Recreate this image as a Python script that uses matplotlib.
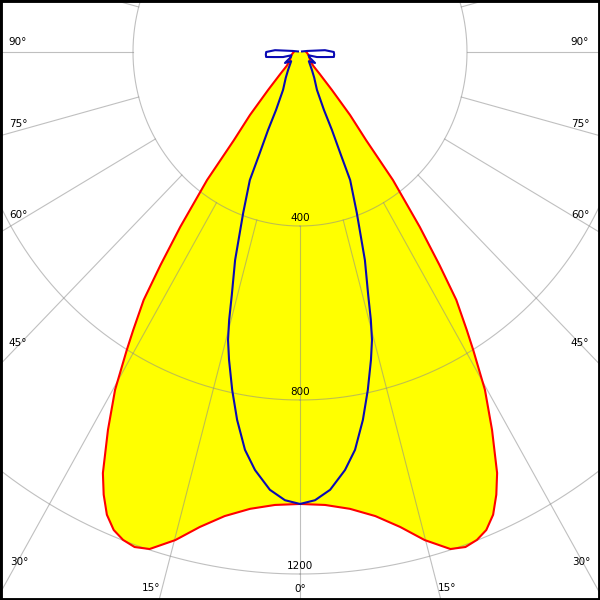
import numpy as np
import matplotlib

matplotlib.use("Agg")
import matplotlib.pyplot as plt
from matplotlib.patches import Rectangle

# half curves (deg from nadir -> cd), mirrored to the other side
red_deg = [0, 3.3, 6.5, 9.6, 12.4, 14.9, 17.5, 19.2, 20.7, 22.1, 23.5, 24.8, 26, 27.9, 29.7,
           31.2, 32, 33.3, 34.3, 35.5, 37.1, 38, 39.6, 41.2, 43, 45, 50, 60, 70, 80, 90]
red_cd = [1039, 1043, 1057, 1082, 1118, 1161, 1198, 1205, 1199, 1186, 1160, 1121, 1077, 983, 894,
          801, 754, 682, 593, 494, 369, 257, 188, 116, 70, 45, 32, 26, 22, 18, 15]
blue_deg = [0, 2, 4.1, 6.4, 8.2, 10.1, 11.8, 13.5, 14.6, 15.4, 16.3, 18, 20.2, 22.2, 22.5, 23.1,
            23.3, 25, 30, 34.7, 45, 55, 62, 70, 74, 79, 82, 86, 90, 94, 98, 105]
blue_cd = [1039, 1031, 1009, 967, 924, 859, 794, 728, 684, 639, 582, 503, 394, 318, 256, 195,
           145, 96, 68, 50, 30, 44, 25, 22, 42, 61, 82, 82, 81, 60, 17, 5]

ring_cd = [400, 800, 1200]
ring_labels = ["400", "800", "1200"]
spoke_deg = list(range(0, 360, 15))

# (text, x px, y px) of the angle labels along the frame
angle_labels = [
    ("90°", 18, 42), ("75°", 18, 124), ("60°", 18, 215), ("45°", 18, 343), ("30°", 19, 562),
    ("15°", 151, 588), ("0°", 300, 589), ("15°", 447, 588),
    ("30°", 581, 562), ("45°", 580, 343), ("60°", 580, 215), ("75°", 580, 124), ("90°", 580, 42),
]


def mirrored(deg, cd):
    d = np.asarray(deg, dtype=float)
    c = np.asarray(cd, dtype=float)
    d_full = np.concatenate([-d[::-1], d[1:]])
    c_full = np.concatenate([c[::-1], c[1:]])
    t = np.radians(d_full)
    return c_full * np.sin(t), -c_full * np.cos(t)


fig = plt.figure(figsize=(6, 6), dpi=100)
ax = fig.add_axes([0, 0, 1, 1])
# centre of the diagram at (300, 52) px; 0.4175 px/cd across, 0.435 px/cd down
ax.set_xlim(-300 / 0.4175, 300 / 0.4175)
ax.set_ylim(-548 / 0.435, 52 / 0.435)
ax.axis("off")

rx, ry = mirrored(red_deg, red_cd)
bx, by = mirrored(blue_deg, blue_cd)

ax.fill(rx, ry, color="#ffff00", zorder=1, lw=0)

grid_kw = dict(color="#8c8c8c", alpha=0.55, lw=0.8, zorder=2)
t = np.linspace(0, 2 * np.pi, 721)
for r in ring_cd:
    ax.plot(r * np.sin(t), -r * np.cos(t), **grid_kw)
for a in spoke_deg:
    s, c = np.sin(np.radians(a)), np.cos(np.radians(a))
    ax.plot([400 * s, 2500 * s], [-400 * c, -2500 * c], **grid_kw)

ax.plot(rx, ry, color="#ff0000", lw=1.5, zorder=3, solid_joinstyle="round")
ax.plot(bx, by, color="#0a0ab4", lw=1.5, zorder=4, solid_joinstyle="round")

for r, lab in zip(ring_cd, ring_labels):
    ax.annotate(lab, (0, -r), xytext=(0, 2), textcoords="offset points",
                ha="center", va="bottom", fontsize=7.5, zorder=5)

for lab, px, py in angle_labels:
    fig.text(px / 600, 1 - py / 600, lab, ha="center", va="center", fontsize=7.5)

fig.patches.append(Rectangle((0, 0), 1, 1, transform=fig.transFigure, fill=False,
                             edgecolor="black", lw=3.5))

fig.savefig("out.png", dpi=100)
